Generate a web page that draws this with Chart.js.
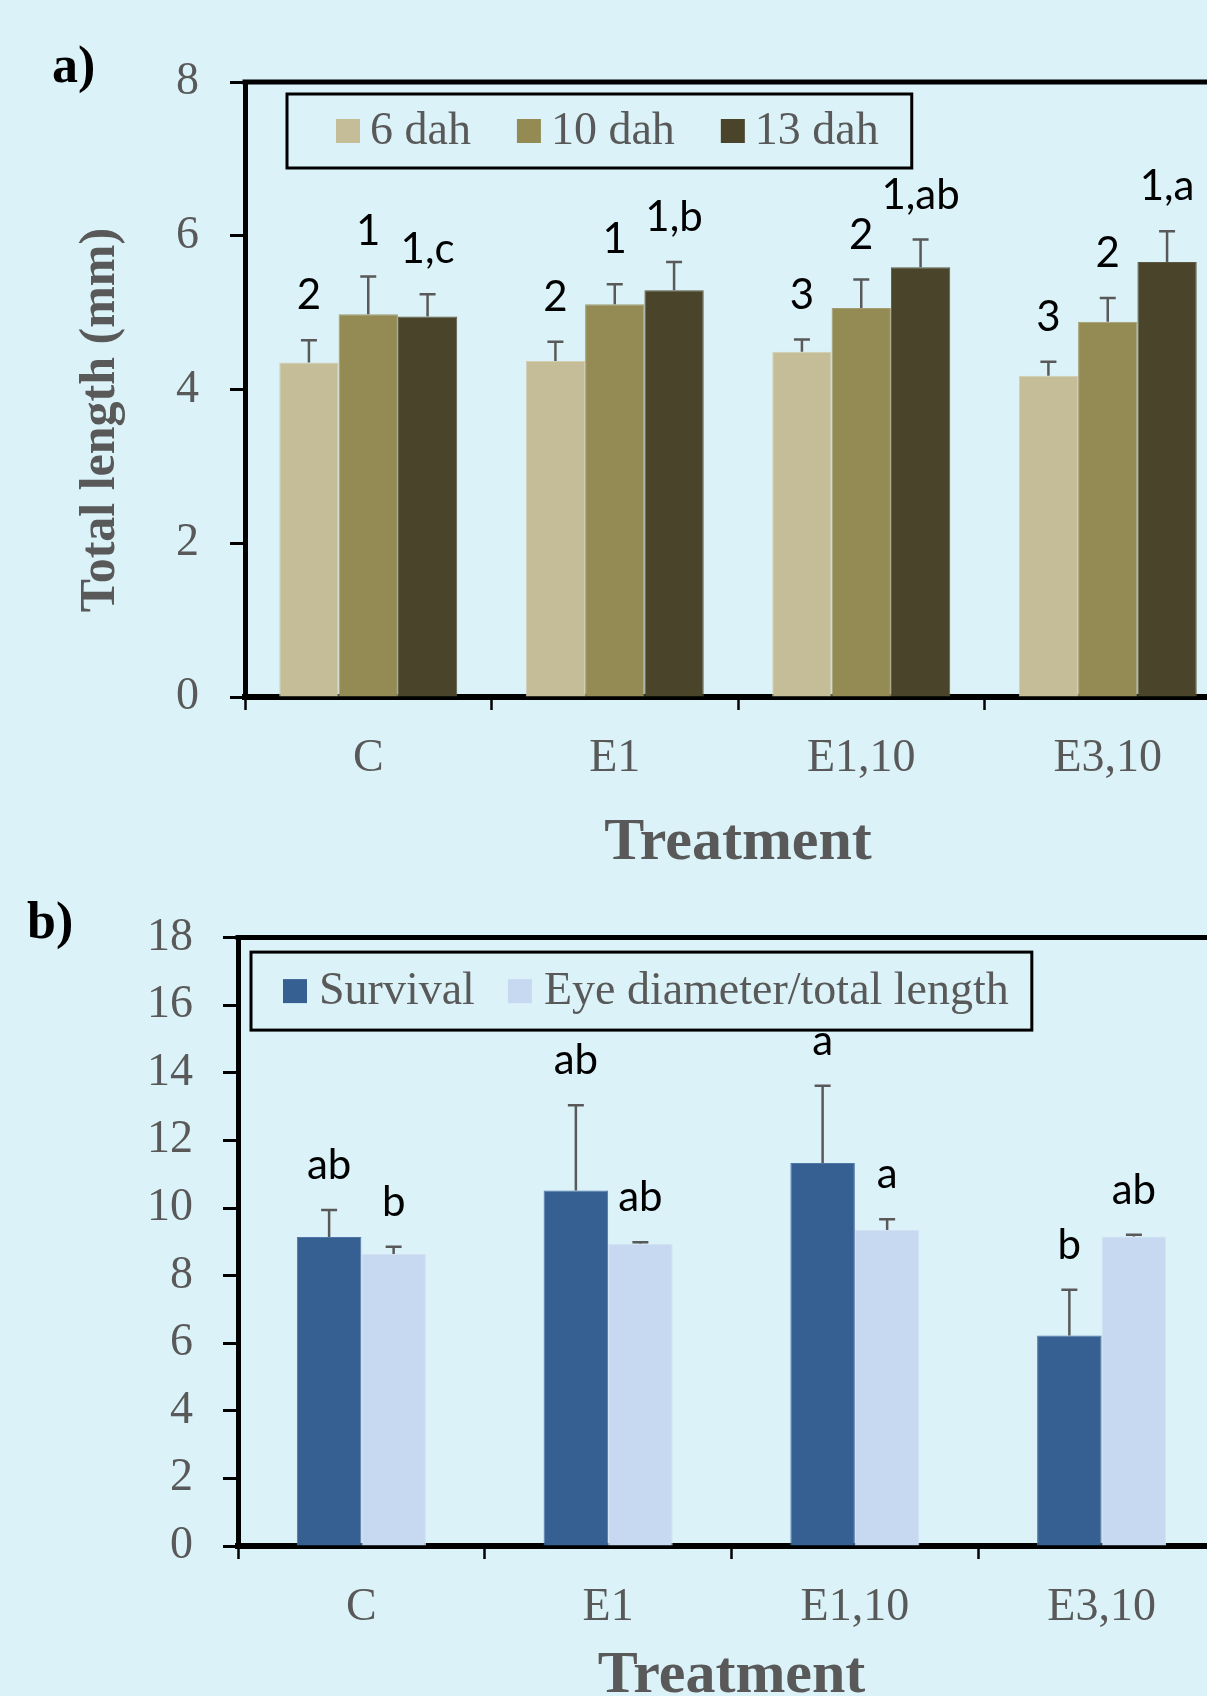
<!DOCTYPE html>
<html>
<head>
<meta charset="utf-8">
<script src="https://cdn.jsdelivr.net/npm/chart.js@4.4.1/dist/chart.umd.min.js"></script>
<style>
  html, body { margin: 0; padding: 0; background: #DBF3F8; overflow: hidden; width: 1207px; height: 1696px; }
  canvas { position: absolute; left: 0; }
  #chartA { top: 0; }
  #chartB { top: 880px; }
</style>
</head>
<body>
<canvas id="chartA" width="1260" height="880"></canvas>
<canvas id="chartB" width="1260" height="840"></canvas>
<script>
// ---- data ----
const categories = ['C', 'E1', 'E1,10', 'E3,10'];

// a) total length (mm) at 6, 10 and 13 days after hatching
const lengthSeries = ['6 dah', '10 dah', '13 dah'];
const len6 = [4.35, 4.37, 4.49, 4.18];
const len6Err = [0.29, 0.25, 0.16, 0.18];
const len6Letters = ['2', '2', '3', '3'];
const len10 = [4.98, 5.11, 5.06, 4.88];
const len10Err = [0.49, 0.26, 0.37, 0.31];
const len10Letters = ['1', '1', '2', '2'];
const len13 = [4.95, 5.29, 5.59, 5.66];
const len13Err = [0.29, 0.37, 0.36, 0.40];
const len13Letters = ['1,c', '1,b', '1,ab', '1,a'];
const lengthTicks = [0, 2, 4, 6, 8];

// b) survival and eye diameter / total length
const ratioSeries = ['Survival', 'Eye diameter/total length'];
const survival = [9.14, 10.52, 11.33, 6.23];
const survivalErr = [0.80, 2.52, 2.29, 1.35];
const survivalLetters = ['ab', 'ab', 'a', 'b'];
const eyeRatio = [8.64, 8.94, 9.35, 9.16];
const eyeRatioErr = [0.21, 0.05, 0.32, 0.05];
const eyeLetters = ['b', 'ab', 'a', 'ab'];
const ratioTicks = [0, 2, 4, 6, 8, 10, 12, 14, 16, 18];

// ---- styling ----
const GREY = '#595959';
const SERIF = '"Liberation Serif", "Times New Roman", serif';
const SANS = 'Lato, "Open Sans", sans-serif';

// error bars with significance letters above each bar
const errorBars = {
  id: 'errorBars',
  afterDatasetsDraw(chart) {
    const ctx = chart.ctx;
    const y = chart.scales.y;
    chart.data.datasets.forEach((ds, i) => {
      chart.getDatasetMeta(i).data.forEach((bar, j) => {
        const top = y.getPixelForValue(ds.data[j] + ds.errors[j]);
        ctx.save();
        ctx.strokeStyle = GREY;
        ctx.lineWidth = 2.5;
        ctx.beginPath();
        ctx.moveTo(bar.x, bar.y);
        ctx.lineTo(bar.x, top);
        ctx.moveTo(bar.x - 8, top);
        ctx.lineTo(bar.x + 8, top);
        ctx.stroke();
        ctx.fillStyle = '#000';
        ctx.font = '42px ' + SANS;
        ctx.textAlign = 'center';
        ctx.textBaseline = 'alphabetic';
        ctx.fillText(ds.letters[j], bar.x, top - 31);
        ctx.restore();
      });
    });
  }
};

// closes the plot frame (top and right edges)
const frame = {
  id: 'frame',
  afterDraw(chart) {
    const { ctx, chartArea: a } = chart;
    ctx.save();
    ctx.strokeStyle = '#000';
    ctx.lineWidth = 5;
    ctx.beginPath();
    ctx.moveTo(a.left - 2.5, a.top);
    ctx.lineTo(a.right, a.top);
    ctx.lineTo(a.right, a.bottom);
    ctx.stroke();
    ctx.restore();
  }
};

// boxed legend inside the plot area
const boxedLegend = {
  id: 'boxedLegend',
  afterDraw(chart, args, o) {
    const { ctx, chartArea: a } = chart;
    ctx.save();
    ctx.font = '46px ' + SERIF;
    const left = a.left + o.dx, top = a.top + o.dy;
    const midY = top + o.h / 2;
    let x = left + o.padL;
    chart.data.datasets.forEach((ds, i) => {
      if (i > 0) x += o.itemGap;
      ctx.fillStyle = ds.backgroundColor;
      ctx.fillRect(x, midY - 12, 24, 24);
      x += 24 + o.textGap;
      ctx.fillStyle = GREY;
      ctx.textAlign = 'left';
      ctx.textBaseline = 'middle';
      ctx.fillText(ds.label, x, midY + 1);
      x += ctx.measureText(ds.label).width;
    });
    ctx.strokeStyle = '#000';
    ctx.lineWidth = 3;
    ctx.strokeRect(left, top, x + o.padR - left, o.h);
    ctx.restore();
  }
};

// free text: panel letter and rotated value-axis title
const captions = {
  id: 'captions',
  afterDraw(chart, args, o) {
    const ctx = chart.ctx;
    ctx.save();
    ctx.fillStyle = '#000';
    ctx.font = 'bold 52px ' + SERIF;
    ctx.textAlign = 'left';
    ctx.textBaseline = 'alphabetic';
    ctx.fillText(o.panel.text, o.panel.x, o.panel.y);
    if (o.yTitle) {
      ctx.translate(o.yTitle.x, o.yTitle.y);
      ctx.rotate(-Math.PI / 2);
      ctx.fillStyle = GREY;
      ctx.font = 'bold 50px ' + SERIF;
      ctx.textAlign = 'center';
      ctx.textBaseline = 'middle';
      ctx.fillText(o.yTitle.text, 0, 0);
    }
    ctx.restore();
  }
};

function barSet(label, data, errors, letters, fill, edge) {
  return { label, data, errors, letters, backgroundColor: fill, borderColor: edge, borderWidth: 1, borderSkipped: 'bottom' };
}

function makeOptions(cfg) {
  return {
    responsive: false,
    animation: false,
    devicePixelRatio: 1,
    layout: { padding: cfg.padding },
    datasets: { bar: { categoryPercentage: cfg.catPct, barPercentage: 1 } },
    plugins: {
      legend: { display: false },
      tooltip: { enabled: false },
      boxedLegend: cfg.legend,
      captions: cfg.captions
    },
    scales: {
      x: {
        z: 1,
        grid: { display: true, drawOnChartArea: false, offset: true, tickLength: 13, tickWidth: 2.5, tickColor: '#000' },
        border: { display: true, color: '#000', width: 6 },
        ticks: { color: GREY, font: { family: SERIF, size: 46 }, padding: 21 },
        title: { display: true, text: 'Treatment', color: GREY, font: { family: SERIF, size: 60, weight: 'bold' }, padding: 0 },
        afterFit: s => { s.height = cfg.xHeight; }
      },
      y: {
        z: 1,
        min: 0,
        max: cfg.ticks[cfg.ticks.length - 1],
        afterBuildTicks: s => { s.ticks = cfg.ticks.map(v => ({ value: v })); },
        grid: { display: true, drawOnChartArea: false, tickLength: 15, tickWidth: 3, tickColor: '#000' },
        border: { display: true, color: '#000', width: 5 },
        ticks: { color: GREY, font: { family: SERIF, size: 46 }, padding: cfg.tickPad },
        afterFit: s => { s.width = cfg.yWidth; }
      }
    }
  };
}

new Chart(document.getElementById('chartA'), {
  type: 'bar',
  data: {
    labels: categories,
    datasets: [
      barSet(lengthSeries[0], len6, len6Err, len6Letters, '#C4BD97', '#D3CEB0'),
      barSet(lengthSeries[1], len10, len10Err, len10Letters, '#948A54', '#A49C70'),
      barSet(lengthSeries[2], len13, len13Err, len13Letters, '#4A452A', '#5C5840')
    ]
  },
  options: makeOptions({
    padding: { top: 82, left: 0, right: 29, bottom: 1 },
    catPct: 0.722,
    xHeight: 182,
    yWidth: 245,
    tickPad: 31,
    ticks: lengthTicks,
    legend: { dx: 42, dy: 12, h: 74, padL: 49, textGap: 10, itemGap: 46, padR: 33 },
    captions: {
      panel: { text: 'a)', x: 52, y: 82 },
      yTitle: { text: 'Total length (mm)', x: 101, y: 420 }
    }
  }),
  plugins: [errorBars, frame, boxedLegend, captions]
});

new Chart(document.getElementById('chartB'), {
  type: 'bar',
  data: {
    labels: categories,
    datasets: [
      barSet(ratioSeries[0], survival, survivalErr, survivalLetters, '#376092', '#4F76A6'),
      barSet(ratioSeries[1], eyeRatio, eyeRatioErr, eyeLetters, '#C6D9F0', '#D4E2F3')
    ]
  },
  options: makeOptions({
    padding: { top: 51.5, left: 0, right: 35, bottom: 8 },
    catPct: 0.523,
    xHeight: 166,
    yWidth: 238,
    tickPad: 30,
    ticks: ratioTicks,
    legend: { dx: 13, dy: 14.5, h: 78, padL: 32, textGap: 12, itemGap: 33, padR: 23 },
    captions: {
      panel: { text: 'b)', x: 27, y: 58 }
    }
  }),
  plugins: [errorBars, frame, boxedLegend, captions]
});
</script>
</body>
</html>
